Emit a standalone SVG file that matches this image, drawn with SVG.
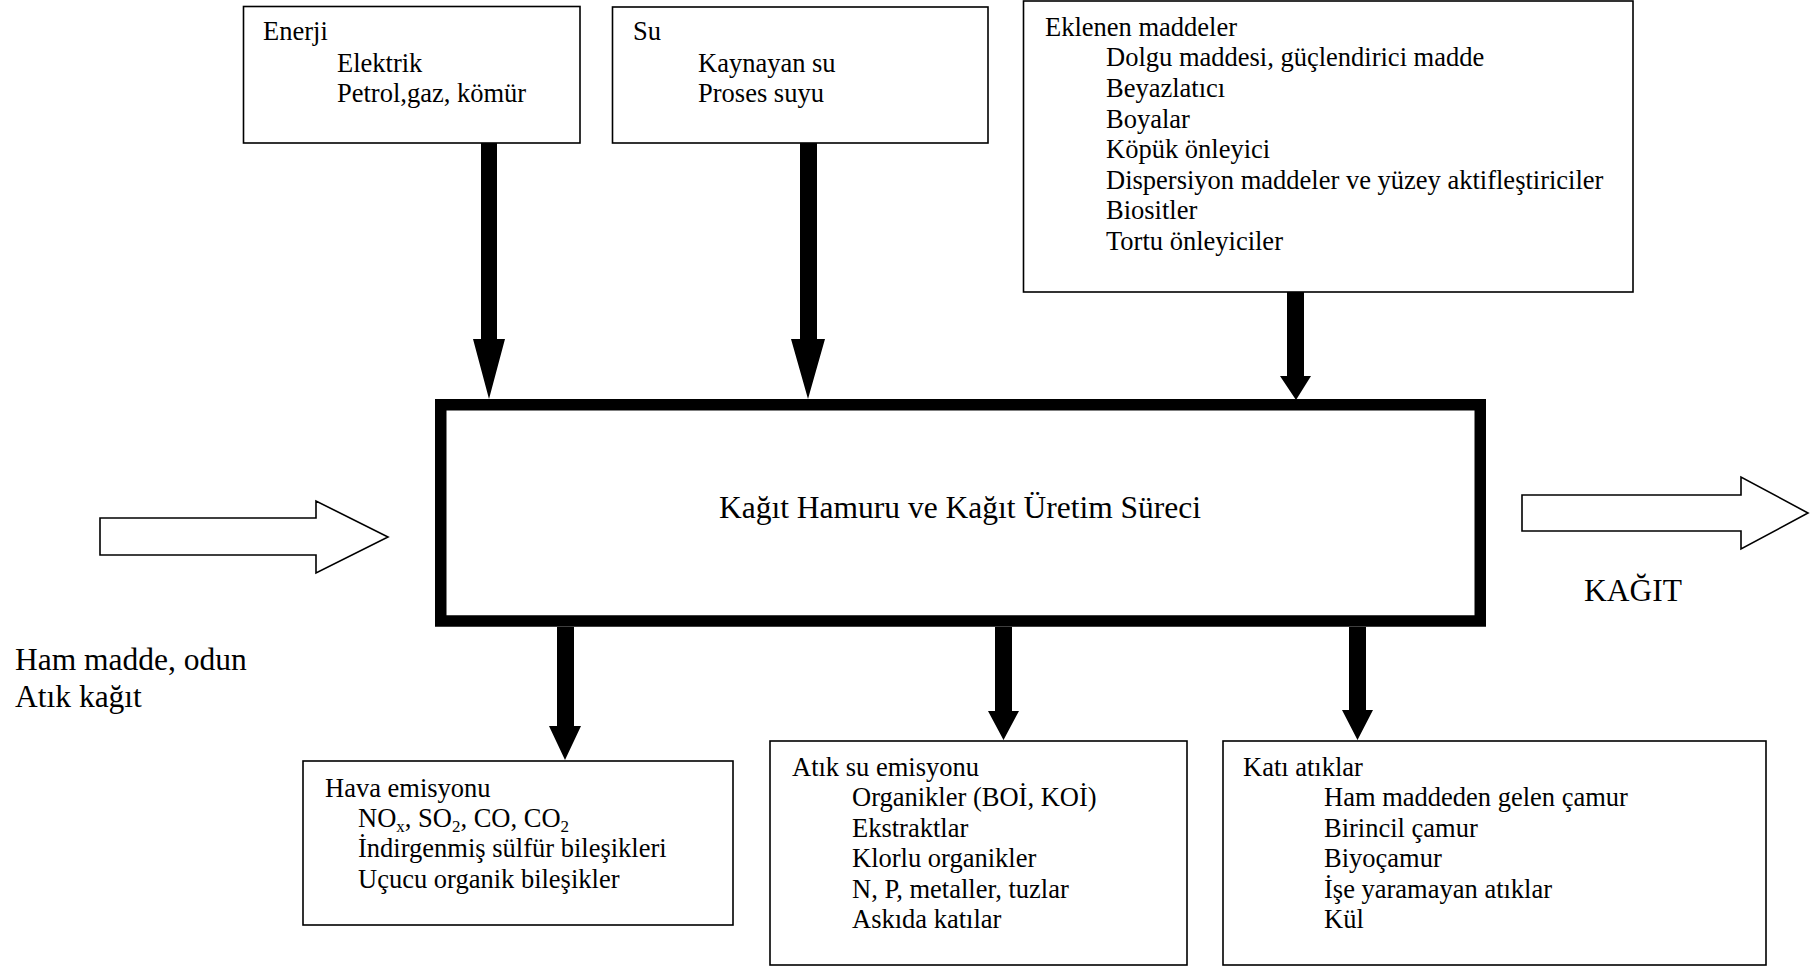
<svg xmlns="http://www.w3.org/2000/svg" width="1810" height="967" viewBox="0 0 1810 967">
<style>
.box{fill:#fff;stroke:#000;stroke-width:1.6}
.main{fill:#fff;stroke:#000;stroke-width:11.5}
.t{font-family:"Liberation Serif","Times New Roman",serif;font-size:26.5px;fill:#000}
.big{font-family:"Liberation Serif","Times New Roman",serif;font-size:31.5px;fill:#000}
.sub{font-size:17px}
.arr{fill:#000;stroke:none}
.open{fill:#fff;stroke:#000;stroke-width:1.6}
</style>
<rect width="1810" height="967" fill="#fff"/>
<g id="connectors">
  <polygon class="arr" points="481,143 497,143 497,339 505,339 489,399 473,339 481,339"/>
  <polygon class="arr" points="800,143 817,143 817,339 825,339 808,399 791,339 800,339"/>
  <polygon class="arr" points="1287,292 1304,292 1304,376 1311,376 1296,400 1280,376 1287,376"/>
  <polygon class="arr" points="557,627 574,627 574,726 581,726 565,760 549,726 557,726"/>
  <polygon class="arr" points="995,627 1012,627 1012,711 1019,711 1003.5,740 988,711 995,711"/>
  <polygon class="arr" points="1349,627 1366,627 1366,710 1373,710 1357.5,740 1342,710 1349,710"/>
  <polygon class="open" points="100,518 316,518 316,501 388,537 316,573 316,555 100,555"/>
  <polygon class="open" points="1522,495 1741,495 1741,477 1808,513 1741,549 1741,531 1522,531"/>
</g>
<g id="enerji">
  <rect class="box" x="243.5" y="6.5" width="336.5" height="136.5"/>
  <text class="t" x="263" y="40">Enerji</text>
  <text class="t" x="337" y="72">Elektrik</text>
  <text class="t" x="337" y="102">Petrol,gaz, kömür</text>
</g>
<g id="su">
  <rect class="box" x="612.5" y="7" width="375.5" height="136"/>
  <text class="t" x="633" y="40">Su</text>
  <text class="t" x="698" y="72">Kaynayan su</text>
  <text class="t" x="698" y="102">Proses suyu</text>
</g>
<g id="eklenen">
  <rect class="box" x="1023.5" y="1" width="609.5" height="291"/>
  <text class="t" x="1045" y="36">Eklenen maddeler</text>
  <text class="t" x="1106" y="66">Dolgu maddesi, güçlendirici madde</text>
  <text class="t" x="1106" y="97">Beyazlatıcı</text>
  <text class="t" x="1106" y="128">Boyalar</text>
  <text class="t" x="1106" y="158">Köpük önleyici</text>
  <text class="t" x="1106" y="189">Dispersiyon maddeler ve yüzey aktifleştiriciler</text>
  <text class="t" x="1106" y="219">Biositler</text>
  <text class="t" x="1106" y="250">Tortu önleyiciler</text>
</g>
<g id="surec">
  <rect class="main" x="440.75" y="404.75" width="1039.5" height="216.25"/>
  <text class="big" x="960" y="518" text-anchor="middle">Kağıt Hamuru ve Kağıt Üretim Süreci</text>
</g>
<g id="hammadde">
  <text class="big" x="15" y="670">Ham madde, odun</text>
  <text class="big" x="15" y="707">Atık kağıt</text>
</g>
<g id="kagit">
  <text class="big" x="1584" y="601">KAĞIT</text>
</g>
<g id="hava">
  <rect class="box" x="303" y="761" width="430" height="164"/>
  <text class="t" x="325" y="797">Hava emisyonu</text>
  <text class="t" x="358" y="827">NO<tspan class="sub" dy="5">x</tspan><tspan dy="-5">, SO</tspan><tspan class="sub" dy="5">2</tspan><tspan dy="-5">, CO, CO</tspan><tspan class="sub" dy="5">2</tspan></text>
  <text class="t" x="358" y="857">İndirgenmiş sülfür bileşikleri</text>
  <text class="t" x="358" y="888">Uçucu organik bileşikler</text>
</g>
<g id="atiksu">
  <rect class="box" x="770" y="741" width="417" height="224"/>
  <text class="t" x="792" y="776">Atık su emisyonu</text>
  <text class="t" x="852" y="806">Organikler (BOİ, KOİ)</text>
  <text class="t" x="852" y="837">Ekstraktlar</text>
  <text class="t" x="852" y="867">Klorlu organikler</text>
  <text class="t" x="852" y="898">N, P, metaller, tuzlar</text>
  <text class="t" x="852" y="928">Askıda katılar</text>
</g>
<g id="kati">
  <rect class="box" x="1223" y="741" width="543" height="224"/>
  <text class="t" x="1243" y="776">Katı atıklar</text>
  <text class="t" x="1324" y="806">Ham maddeden gelen çamur</text>
  <text class="t" x="1324" y="837">Birincil çamur</text>
  <text class="t" x="1324" y="867">Biyoçamur</text>
  <text class="t" x="1324" y="898">İşe yaramayan atıklar</text>
  <text class="t" x="1324" y="928">Kül</text>
</g>
</svg>
